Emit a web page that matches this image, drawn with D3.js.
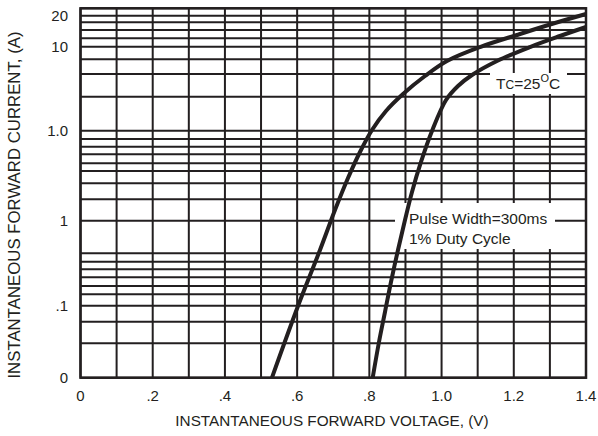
<!DOCTYPE html>
<html><head><meta charset="utf-8">
<script src="https://cdn.jsdelivr.net/npm/d3@7"></script>
<style>body{margin:0;background:#fff}svg{display:block}</style>
</head><body>
<svg id="c" width="598" height="436"></svg>
<script>
// ---- data ----
const xGrid = [0,0.1,0.2,0.3,0.4,0.5,0.6,0.7,0.8,0.9,1.0,1.1,1.2,1.3,1.4];
const xTickValues = [0,0.2,0.4,0.6,0.8,1.0,1.2,1.4];
const xTickLabels = ["0",".2",".4",".6",".8","1.0","1.2","1.4"];
const yGrid = [0.01606,0.0397,0.0701,0.1068,0.1441,0.1794,0.2254,0.2783,0.340,0.424,1,1.756,2.676,3.70,4.53,5.74,7.01,8.58,10.7,26.1,47.5,69.9,97.4,121.5,151.1,185.1,220.3,267.6];
const yTickValues = [0.01606,0.1068,1,10.7,97.4,220.3];
const yTickLabels = ["0",".1","1","1.0","10","20"];
const curveA_V = [0.5303,0.6024,0.6633,0.7048,0.7409,0.7741,0.8073,0.8461,0.8932,0.9541,1.0150,1.1064,1.2172,1.3141,1.400];
const curveA_I = [0.0161,0.1060,0.4625,1.325,3.076,6.097,10.88,17.93,28.05,45.06,66.86,96.6,136.1,181.7,230.3];
const curveB_V = [0.8093,0.8267,0.8433,0.8599,0.8793,0.8987,0.9181,0.9430,0.9735,1.0123,1.0455,1.0843,1.1535,1.2449,1.3280,1.400];
const curveB_I = [0.0161,0.04109,0.09049,0.1993,0.4625,1.019,2.128,4.688,10.60,23.95,34.63,46.26,66.86,96.6,129.1,163.6];

// ---- layout ----
const L=80.5, R=586, T=8.3, B=377.7;
const svg=d3.select("#c");
const x=d3.scaleLinear().domain([0,1.4]).range([L,R]);
const y=d3.scaleLog().domain([0.01606,267.6]).range([B,T]);
const ink="#231f20";
const font="Liberation Sans, Arial, sans-serif";

// grid
svg.append("g").selectAll("line").data(yGrid).join("line")
  .attr("x1",L).attr("x2",R).attr("y1",d=>y(d)).attr("y2",d=>y(d))
  .attr("stroke",ink).attr("stroke-width",2);
svg.append("g").selectAll("line").data(xGrid).join("line")
  .attr("x1",d=>x(d)).attr("x2",d=>x(d)).attr("y1",T).attr("y2",B)
  .attr("stroke",ink).attr("stroke-width",2);
svg.append("rect").attr("x",L).attr("y",T).attr("width",R-L).attr("height",B-T)
  .attr("fill","none").attr("stroke",ink).attr("stroke-width",2.5);

// annotation boxes
svg.append("rect").attr("x",490).attr("y",73).attr("width",77).attr("height",21).attr("fill","#fff");
svg.append("rect").attr("x",395).attr("y",203).attr("width",160).attr("height",46).attr("fill","#fff");

// curves
const line=d3.line().x(d=>x(d[0])).y(d=>y(d[1])).curve(d3.curveCatmullRom.alpha(0.5));
[[curveA_V,curveA_I],[curveB_V,curveB_I]].forEach(([v,i])=>{
  svg.append("path").datum(v.map((vv,k)=>[vv,i[k]])).attr("d",line)
    .attr("fill","none").attr("stroke",ink).attr("stroke-width",4).attr("stroke-linecap","butt");
});

// tick labels
svg.append("g").selectAll("text").data(xTickValues).join("text")
  .attr("x",d=>x(d)).attr("y",401).attr("text-anchor","middle")
  .attr("font-family",font).attr("font-size",15).attr("fill",ink)
  .text((d,k)=>xTickLabels[k]);
svg.append("g").selectAll("text").data(yTickValues).join("text")
  .attr("x",68).attr("y",d=>y(d)+5.5).attr("text-anchor","end")
  .attr("font-family",font).attr("font-size",15).attr("fill",ink)
  .text((d,k)=>yTickLabels[k]);

// axis titles
svg.append("text").attr("x",332).attr("y",426).attr("text-anchor","middle")
  .attr("font-family",font).attr("font-size",15.3).attr("fill",ink)
  .text("INSTANTANEOUS FORWARD VOLTAGE, (V)");
svg.append("text").attr("transform","translate(19.5,205) rotate(-90)").attr("text-anchor","middle")
  .attr("font-family",font).attr("font-size",16.8).attr("fill",ink)
  .text("INSTANTANEOUS FORWARD CURRENT, (A)");

// annotations
const tc=svg.append("text").attr("x",496).attr("y",89).attr("font-family",font).attr("font-size",15.5).attr("fill",ink);
tc.append("tspan").text("T");
tc.append("tspan").attr("font-size",12).text("C");
tc.append("tspan").text("=25");
tc.append("tspan").attr("font-size",11).attr("dy",-7).text("O");
tc.append("tspan").attr("dy",7).text("C");
svg.append("text").attr("x",409).attr("y",224).attr("font-family",font).attr("font-size",15.5).attr("fill",ink).text("Pulse Width=300ms");
svg.append("text").attr("x",409).attr("y",244).attr("font-family",font).attr("font-size",15.5).attr("fill",ink).text("1% Duty Cycle");
</script>
</body></html>
